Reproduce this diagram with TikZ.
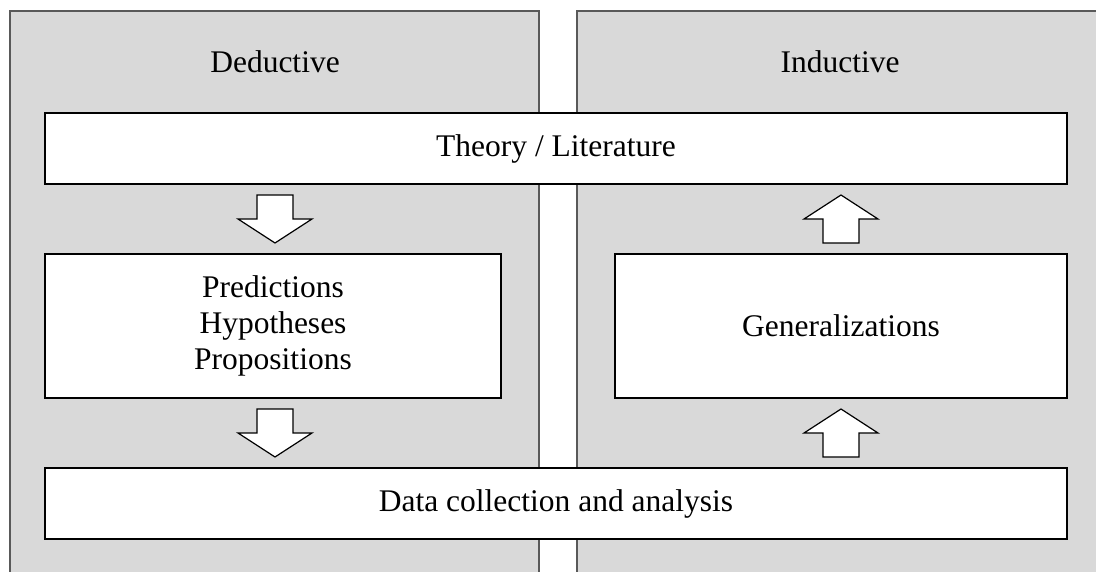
\documentclass[tikz,border=0pt]{standalone}
\usepackage{fontspec}
\setmainfont{Liberation Serif}
\usetikzlibrary{calc}
\tikzset{
  panelfill/.style={fill=black!15},
  panelline/.style={draw=black!65, line width=2pt},
  stagebox/.style={draw=black, line width=1.5pt, fill=white, inner sep=0pt,
    align=center, font=\fontsize{31.5}{36}\selectfont},
  heading/.style={anchor=base, font=\fontsize{31.5}{36}\selectfont},
  blockarrow/.pic={
    \draw[line width=1.2pt, fill=white, line join=miter]
      (-18,-24) -- (18,-24) -- (18,0) -- (37,0) -- (0,24) -- (-37,0) -- (-18,0) -- cycle;
  }
}
\begin{document}
\begin{tikzpicture}[x=1pt, y=-1pt]
\useasboundingbox (0,0) rectangle (1096,572);

% two background panels, open at the bottom
\fill[panelfill] (10,11) rectangle (539,572);
\draw[panelline] (10,572) -- (10,11) -- (539,11) -- (539,572);
\fill[panelfill] (577,11) rectangle (1096,572);
\draw[panelline] (577,572) -- (577,11) -- (1096,11);

\node[heading] (ded) at (275,73) {Deductive};
\node[heading] (ind) at (840,73) {Inductive};

% stages
\node[stagebox, minimum width=1022pt, minimum height=71pt] (theory) at (556,148.5) {Theory / Literature};
\node[stagebox, minimum width=456pt, minimum height=144pt] (pred) at (273,326) {Predictions\\Hypotheses\\Propositions};
\node[stagebox, minimum width=452pt, minimum height=144pt] (gen) at (841,326) {Generalizations};
\node[stagebox, minimum width=1022pt, minimum height=71pt] (data) at (556,503.5) {Data collection and analysis};

% block arrows between stages
\coordinate (a1) at ($(theory.south -| pred.north)!0.5!(pred.north)$);
\coordinate (a2) at ($(pred.south)!0.5!(data.north -| pred.south)$);
\coordinate (a3) at ($(gen.south)!0.5!(data.north -| gen.south)$);
\coordinate (a4) at ($(theory.south -| gen.north)!0.5!(gen.north)$);
\pic at ([xshift=2pt]a1) {blockarrow};
\pic at ([xshift=2pt]a2) {blockarrow};
\pic[rotate=180] at (a3) {blockarrow};
\pic[rotate=180] at (a4) {blockarrow};
\end{tikzpicture}
\end{document}
